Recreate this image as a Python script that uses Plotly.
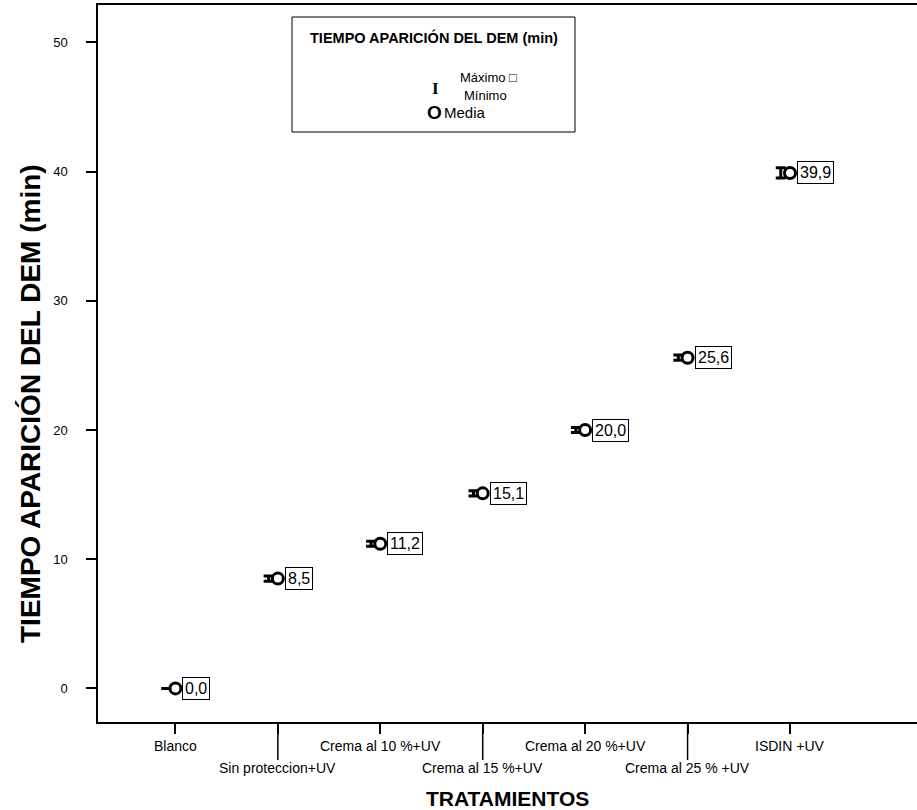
import plotly.graph_objects as go

# ---------------- data ----------------
categorias = ["Blanco", "Sin proteccion+UV", "Crema al 10 %+UV", "Crema al 15 %+UV",
              "Crema al 20 %+UV", "Crema al 25 % +UV", "ISDIN +UV"]
media = [0.0, 8.5, 11.2, 15.1, 20.0, 25.6, 39.9]
maximo = [0.0, 8.7, 11.4, 15.3, 20.2, 25.8, 40.3]
minimo = [0.0, 8.3, 11.0, 14.9, 19.8, 25.4, 39.5]
y_ticks = [0, 10, 20, 30, 40, 50]

titulo_y = "TIEMPO APARICIÓN DEL DEM (min)"
titulo_x = "TRATAMIENTOS"
leyenda_titulo = "TIEMPO APARICIÓN DEL DEM (min)"

# ---------------- layout constants ----------------
W, H = 917, 810
L, R, T, B = 98, 0, 5, 88
PW, PH = W - L - R, H - T - B
X_RANGE = [-0.756, 7.24]
Y_RANGE = [-2.6, 52.9]
IBEAM_SHIFT = 0.09  # category units, draws max/min beam just left of the mean
FONT = "Liberation Sans, Arial, sans-serif"


def px_x(p):
    return (p - L) / PW


def px_y(p):
    return (H - B - p) / PH


fig = go.Figure()

# max / min I-beam (slightly offset to the left through an overlaid axis)
fig.add_trace(go.Scatter(
    x=categorias, y=media, mode="markers", xaxis="x2", yaxis="y",
    marker=dict(size=1, color="rgba(0,0,0,0)"),
    error_y=dict(type="data", symmetric=False,
                 array=[mx - m for mx, m in zip(maximo, media)],
                 arrayminus=[m - mn for m, mn in zip(media, minimo)],
                 color="black", thickness=3, width=5),
    name="Máximo Mínimo", hoverinfo="skip",
))

# mean
fig.add_trace(go.Scatter(
    x=categorias, y=media, mode="markers", name="Media",
    marker=dict(symbol="circle-open", size=11, color="black",
                line=dict(width=3, color="black")),
))

annotations = []
# value labels
for c, m in zip(categorias, media):
    annotations.append(dict(
        x=c, y=m, xref="x", yref="y", text=f"{m:.1f}".replace(".", ","),
        xanchor="left", yanchor="middle", xshift=7, showarrow=False,
        bordercolor="black", borderwidth=1, borderpad=2, bgcolor="white",
        font=dict(family=FONT, size=16, color="black"),
    ))

# staggered category labels
shapes = []
for i, c in enumerate(categorias):
    row = i % 2
    annotations.append(dict(
        x=i, y=0, xref="x", yref="paper", text=c, showarrow=False,
        xanchor="center", yanchor="middle", yshift=-24 - 22 * row,
        font=dict(family=FONT, size=14, color="black"),
    ))
    if row == 1:
        shapes.append(dict(type="line", xref="x", yref="paper", x0=i, x1=i,
                           y0=0, y1=-38 / PH, line=dict(color="black", width=1.5)))

# axis titles
annotations.append(dict(
    x=0.5, y=0, xref="paper", yref="paper", text=titulo_x, showarrow=False,
    xanchor="center", yanchor="middle", yshift=-(798 - (H - B)),
    font=dict(family=FONT, size=21, color="black", weight="bold"),
))
annotations.append(dict(
    x=px_x(30), y=px_y(404), xref="paper", yref="paper", text=titulo_y,
    showarrow=False, textangle=-90, xanchor="center", yanchor="middle",
    font=dict(family=FONT, size=28, color="black", weight="bold"),
))

# legend (drawn manually to match the original layout)
shapes.append(dict(type="rect", xref="paper", yref="paper",
                   x0=px_x(292), x1=px_x(575), y0=px_y(132), y1=px_y(17),
                   line=dict(color="black", width=1), fillcolor="white", layer="below"))
annotations += [
    dict(x=px_x(434), y=px_y(38), xref="paper", yref="paper", text=leyenda_titulo,
         showarrow=False, xanchor="center", yanchor="middle",
         font=dict(family=FONT, size=14.5, color="black", weight="bold")),
    dict(x=px_x(435), y=px_y(88), xref="paper", yref="paper", text="I",
         showarrow=False, xanchor="center", yanchor="middle",
         font=dict(family="Liberation Serif, serif", size=17, color="black", weight="bold")),
    dict(x=px_x(458), y=px_y(78), xref="paper", yref="paper", text="Máximo □",
         showarrow=False, xanchor="left", yanchor="middle",
         font=dict(family=FONT, size=13, color="black")),
    dict(x=px_x(462), y=px_y(95), xref="paper", yref="paper", text="Mínimo",
         showarrow=False, xanchor="left", yanchor="middle",
         font=dict(family=FONT, size=13, color="black")),
    dict(x=px_x(434), y=px_y(113), xref="paper", yref="paper", text="O",
         showarrow=False, xanchor="center", yanchor="middle",
         font=dict(family=FONT, size=19, color="black", weight="bold")),
    dict(x=px_x(442), y=px_y(113), xref="paper", yref="paper", text="Media",
         showarrow=False, xanchor="left", yanchor="middle",
         font=dict(family=FONT, size=15, color="black")),
]

fig.update_layout(
    width=W, height=H,
    margin=dict(l=L, r=R, t=T, b=B, pad=0),
    paper_bgcolor="white", plot_bgcolor="white",
    showlegend=False,
    xaxis=dict(type="category", categoryarray=categorias, categoryorder="array",
               range=X_RANGE, showline=True, linecolor="black", linewidth=1.5,
               mirror=True, ticks="outside", ticklen=10, tickwidth=1.5,
               tickcolor="black", showticklabels=False, showgrid=False,
               zeroline=False, fixedrange=True),
    xaxis2=dict(type="category", categoryarray=categorias, categoryorder="array",
                range=[X_RANGE[0] + IBEAM_SHIFT, X_RANGE[1] + IBEAM_SHIFT],
                overlaying="x", anchor="y", visible=False, fixedrange=True),
    yaxis=dict(range=Y_RANGE, tickvals=y_ticks, showline=True, linecolor="black",
               linewidth=1.5, ticks="outside", ticklen=10, tickwidth=1.5,
               tickcolor="black", showgrid=False, zeroline=False,
               ticklabelstandoff=16,
               tickfont=dict(family=FONT, size=13, color="black"), fixedrange=True),
    annotations=annotations,
    shapes=shapes,
)

fig.write_html("out.html", config={"displayModeBar": False},
               post_script="document.body.style.margin='0px';")
